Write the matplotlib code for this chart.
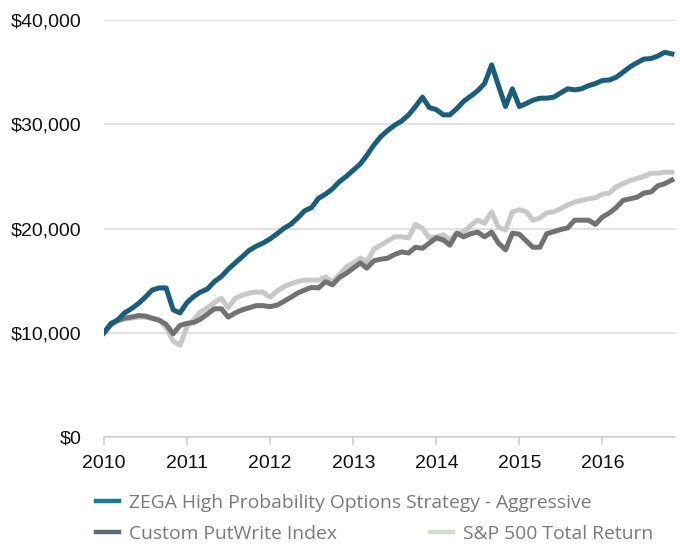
import matplotlib
matplotlib.use("Agg")
import matplotlib.pyplot as plt
import matplotlib.dates as mdates
from matplotlib.lines import Line2D
from matplotlib.ticker import FuncFormatter
import pandas as pd

# Monthly growth of $10,000, Jan 2010 - Nov 2016
dates = pd.date_range("2010-01-01", periods=83, freq="MS")

zega = [10000, 10900, 11200, 11900, 12300, 12800, 13400, 14100, 14300, 14300, 12200, 11900,
        12900, 13500, 13900, 14200, 14900, 15400, 16100, 16700, 17300, 17900, 18300, 18600,
        19000, 19500, 20000, 20400, 21000, 21700, 22000, 22900, 23300, 23800, 24500, 25000,
        25600, 26200, 27000, 28000, 28800, 29400, 29900, 30300, 30900, 31700, 32600, 31600,
        31400, 30900, 30900, 31500, 32200, 32700, 33200, 33900, 35700, 33700, 31700, 33400,
        31700, 32000, 32300, 32500, 32500, 32600, 33000, 33400, 33300, 33400, 33700, 33900,
        34200, 34250, 34500, 35000, 35500, 35900, 36250, 36300, 36550, 36900, 36750]

putwrite = [10000, 10800, 11200, 11400, 11500, 11650, 11600, 11400, 11200, 10800, 9900, 10700,
            10900, 11000, 11300, 11800, 12300, 12300, 11500, 11900, 12200, 12400, 12600, 12600,
            12500, 12650, 13000, 13400, 13800, 14100, 14350, 14300, 14900, 14600, 15300, 15700,
            16200, 16700, 16200, 16900, 17050, 17150, 17500, 17750, 17650, 18200, 18100, 18600,
            19100, 18900, 18400, 19550, 19200, 19500, 19650, 19200, 19650, 18600, 17950, 19550,
            19450, 18800, 18200, 18200, 19500, 19700, 19900, 20050, 20800, 20800, 20800, 20400,
            21100, 21500, 22000, 22700, 22850, 23000, 23400, 23500, 24100, 24300, 24650]

sp500 = [10000, 10700, 11100, 11300, 11400, 11500, 11500, 11350, 11200, 10500, 9200, 8800,
         10600, 11300, 12000, 12400, 12900, 13300, 12400, 13300, 13600, 13800, 13900, 13900,
         13400, 14000, 14400, 14700, 14900, 15050, 15050, 15050, 15350, 14850, 15600, 16300,
         16700, 17150, 16800, 18000, 18400, 18800, 19200, 19200, 19100, 20400, 20000, 19100,
         19200, 19400, 18900, 19550, 19650, 20300, 20800, 20500, 21600, 20100, 19850, 21600,
         21800, 21600, 20800, 21000, 21500, 21600, 21900, 22250, 22550, 22700, 22850, 22950,
         23300, 23400, 24000, 24300, 24600, 24800, 25000, 25300, 25300, 25400, 25400]

labels = ["ZEGA High Probability Options Strategy - Aggressive",
          "Custom PutWrite Index",
          "S&P 500 Total Return"]

fig = plt.figure(figsize=(6.8, 5.44), dpi=100)
ax = fig.add_axes([104 / 680, 1 - 437 / 544, 571 / 680, 417 / 544])

ax.plot(dates, sp500, color="#c8c8c8", lw=3.6, solid_joinstyle="round", zorder=3)
ax.plot(dates, putwrite, color="#727272", lw=3.6, solid_joinstyle="round", zorder=4)
ax.plot(dates, zega, color="#1b5e79", lw=3.6, solid_joinstyle="round", zorder=5)

ax.set_ylim(0, 40000)
ax.set_yticks(range(0, 40001, 10000))
ax.yaxis.set_major_formatter(FuncFormatter(lambda v, p: "${:,.0f}".format(v)))
ax.set_xlim(pd.Timestamp("2010-01-01"), pd.Timestamp("2016-11-15"))
ax.xaxis.set_major_locator(mdates.YearLocator())
ax.xaxis.set_major_formatter(mdates.DateFormatter("%Y"))

ax.grid(axis="y", color="#dcdcdc", lw=1.2)
ax.set_axisbelow(True)
for s in ["top", "right", "left"]:
    ax.spines[s].set_visible(False)
ax.spines["bottom"].set_color("#d0d0d0")
ax.spines["bottom"].set_linewidth(1.2)
ax.tick_params(axis="y", length=0, pad=16)
ax.tick_params(axis="x", length=6, color="#d0d0d0", width=1.2, pad=7)
for t in ax.get_xticklabels() + ax.get_yticklabels():
    t.set_fontfamily("Liberation Sans")
    t.set_fontsize(14)
    t.set_color("#111111")

# legend below the chart
leg_kw = dict(frameon=False, borderpad=0, borderaxespad=0, handlelength=1.2,
              handletextpad=0.5, labelcolor="#7a7a7a",
              prop={"family": "Open Sans", "size": 13.9})
h1 = Line2D([], [], color="#1f7796", lw=3.2)
h2 = Line2D([], [], color="#5c6a75", lw=3.2)
h3 = Line2D([], [], color="#d6dbd2", lw=3.2)
fig.legend([h1], [labels[0]], loc="center left",
           bbox_to_anchor=(96 / 680, 1 - 503 / 544), **leg_kw)
fig.legend([h2], [labels[1]], loc="center left",
           bbox_to_anchor=(96 / 680, 1 - 534 / 544), **leg_kw)
fig.legend([h3], [labels[2]], loc="center left",
           bbox_to_anchor=(430 / 680, 1 - 534 / 544), **leg_kw)

fig.savefig("out.png", dpi=100)
